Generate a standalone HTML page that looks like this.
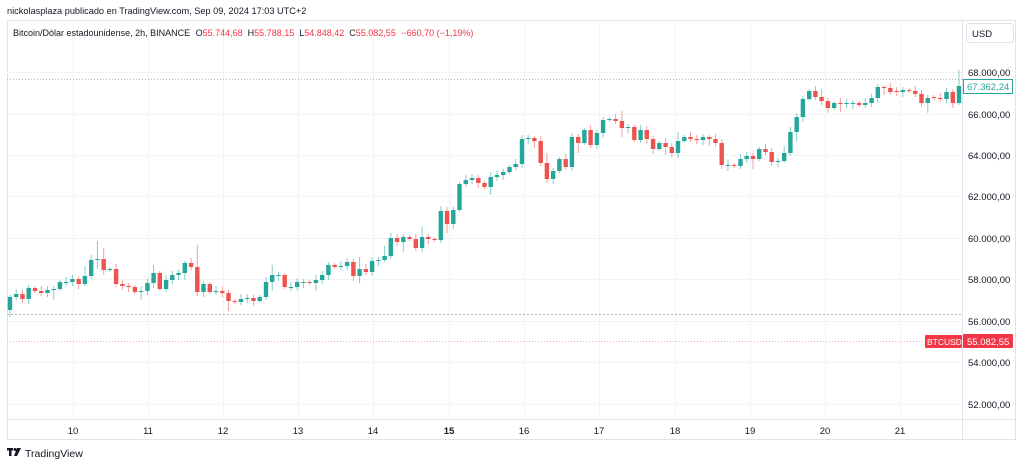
<!DOCTYPE html>
<html><head><meta charset="utf-8"><style>
body{margin:0;background:#fff;width:1024px;height:467px;overflow:hidden;font-family:"Liberation Sans",sans-serif}
svg text{font-family:"Liberation Sans",sans-serif}
</style></head><body>
<svg id="s" width="1024" height="467" xmlns="http://www.w3.org/2000/svg">
<text x="7" y="14" font-size="9.2" fill="#131722">nickolasplaza publicado en TradingView.com, Sep 09, 2024 17:03 UTC+2</text>
<rect x="7.5" y="20.5" width="1008" height="419" fill="none" stroke="#e0e3eb"/>
<line x1="962.5" y1="20" x2="962.5" y2="440" stroke="#e0e3eb"/>
<line x1="7" y1="419.5" x2="1016" y2="419.5" stroke="#e0e3eb"/>
<g id="grid"></g>
<line x1="7" y1="79.5" x2="962" y2="79.5" stroke="#b2b5be" stroke-dasharray="1,2" stroke-width="1"/>
<line x1="7" y1="314.5" x2="962" y2="314.5" stroke="#b2b5be" stroke-dasharray="2,2" stroke-width="1"/>
<line x1="7" y1="341.5" x2="962" y2="341.5" stroke="#f7a9af" stroke-dasharray="1,2" stroke-width="1"/>
<g id="c"></g>
<text x="13" y="36" font-size="9" fill="#131722">Bitcoin/Dólar estadounidense, 2h, BINANCE <tspan dx="3">O</tspan><tspan fill="#f23645">55.744,68</tspan><tspan dx="5">H</tspan><tspan fill="#f23645">55.788,15</tspan><tspan dx="5">L</tspan><tspan fill="#f23645">54.848,42</tspan><tspan dx="5">C</tspan><tspan fill="#f23645">55.082,55 </tspan><tspan fill="#f23645" dx="3">−660,70 (−1,19%)</tspan></text>
<rect x="966.5" y="23.5" width="47" height="19" rx="3" fill="#fff" stroke="#e0e3eb"/>
<text x="972" y="37" font-size="9.5" fill="#131722">USD</text>
<g id="ax" font-size="9.5" fill="#131722"></g>
<rect x="963.5" y="79.5" width="49" height="14" fill="#fff" stroke="#26a69a"/>
<text x="967" y="90" font-size="9.5" fill="#26a69a">67.362,24</text>
<rect x="925" y="335" width="37" height="13" rx="1" fill="#f23645"/>
<text x="927" y="345" font-size="8.5" fill="#fff">BTCUSD</text>
<rect x="963" y="334" width="50" height="14" rx="1" fill="#f23645"/>
<text x="967" y="345" font-size="9.5" fill="#fff">55.082,55</text>
<g transform="translate(7,448)"><rect x="0" y="0" width="6" height="2.5" fill="#131722"/><rect x="2" y="0" width="2.5" height="8" fill="#131722"/><circle cx="8" cy="1.5" r="1.5" fill="#131722"/><path d="M10,0 L14,0 L10,8 L7,8 Z" fill="#131722"/></g>
<text x="25" y="457" font-size="10.5" fill="#131722">TradingView</text>
</svg>
<script>
(function(){
var NS="http://www.w3.org/2000/svg",c=document.getElementById('c'),g=document.getElementById('grid'),ax=document.getElementById('ax');
function el(t,a,p){var e=document.createElementNS(NS,t);for(var k in a)e.setAttribute(k,a[k]);p.appendChild(e);return e;}
var pl=[[68000,76],[66000,118],[64000,159],[62000,200],[60000,242],[58000,283],[56000,325],[54000,366],[52000,408]];
pl.forEach(function(p){var y=p[1]-4;el('line',{x1:7,x2:962,y1:y+.5,y2:y+.5,stroke:'#f0f3fa'},g);var t=el('text',{x:968,y:p[1]},ax);t.textContent=(p[0]/1000).toFixed(0)+'.000,00';});
var days=[[73,'10'],[148,'11'],[223,'12'],[298,'13'],[373,'14'],[449,'15'],[524,'16'],[599,'17'],[675,'18'],[750,'19'],[825,'20'],[900,'21']];
days.forEach(function(d){el('line',{x1:d[0]+.5,x2:d[0]+.5,y1:21,y2:419,stroke:'#f0f3fa'},g);var t=el('text',{x:d[0],y:434,'text-anchor':'middle','font-weight':d[1]=='15'?'bold':'normal'},ax);t.textContent=d[1];});
var cl=[297,294,299,288,291,293,290,289,282,282,279,284,276,260,259,270,269,284,286,287,292,291,283,273,289,280,275,273,263,267,292,284,292,291,293,301,302,299,298,301,297,282,275,275,287,287,282,282,283,280,
275,265,267,266,262,276,269,272,261,260,256,238,242,237,239,248,237,239,240,211,224,210,184,180,178,183,187,177,175,172,167,164,139,138,141,163,179,171,159,167,137,143,130,145,133,120,119,121,
128,127,140,130,139,149,143,147,153,141,137,139,140,137,139,143,165,165,166,159,156,159,149,152,162,161,153,132,117,99,91,97,101,108,103,104,103,103,105,103,98,87,88,92,92,90,91,94,103,98,98,99,92,103,86];
var n=cl.length,sp=(959-10)/(n-1);
var big={14:14,15:8,30:18,12:8,56:10,60:8,66:6,98:6,107:6,115:3,130:4,152:14,86:6,124:5,42:6,23:5};
for(var i=0;i<n;i++){var o=i?cl[i-1]:310,cy=cl[i];if(Math.abs(o-cy)<1)o=cy+(i%2?1:-1);
var up=cy<=o,col=up?'#26a69a':'#ef5350',bt=Math.min(o,cy),bb=Math.max(o,cy),x=10+i*sp;
var wt=bt-2-((i*7)%4)-(big[i]||0),wb=bb+2+((i*5)%4)+((i*3)%7==0?5:0);
el('line',{x1:x.toFixed(1),x2:x.toFixed(1),y1:wt,y2:wb,stroke:col,'stroke-width':1,opacity:.55},c);
el('rect',{x:(x-2.2).toFixed(1),y:bt,width:4.4,height:Math.max(1,bb-bt),fill:col},c);}
})();
</script>
</body></html>
